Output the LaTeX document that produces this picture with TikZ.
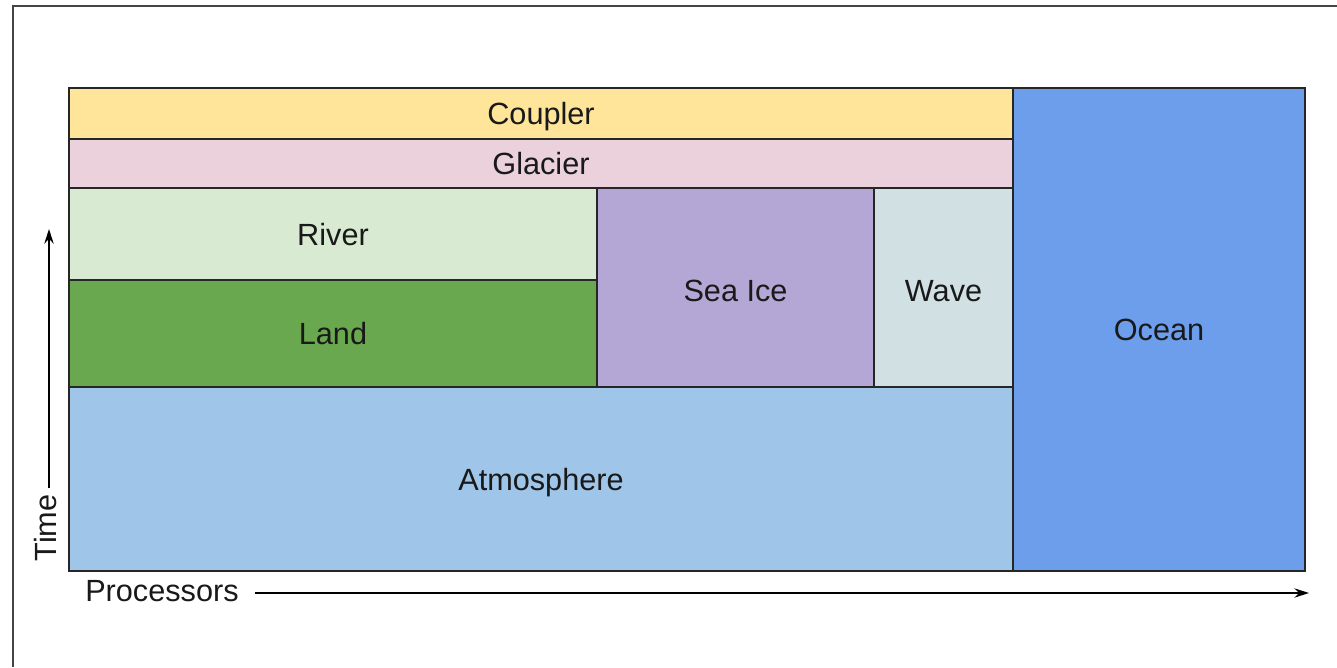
\documentclass[tikz,border=0pt]{standalone}
\usepackage{fontspec}
\setmainfont{Liberation Sans}
\usepackage{tikz}
\usetikzlibrary{positioning,arrows.meta}

\definecolor{couplercol}{HTML}{FFE599}
\definecolor{glaciercol}{HTML}{EAD1DC}
\definecolor{rivercol}{HTML}{D9EAD3}
\definecolor{landcol}{HTML}{6AA84F}
\definecolor{seaicecol}{HTML}{B4A7D6}
\definecolor{wavecol}{HTML}{D0E0E3}
\definecolor{atmcol}{HTML}{9FC5E8}
\definecolor{oceancol}{HTML}{6D9EEB}
\definecolor{framecol}{HTML}{444444}

\begin{document}
\begin{tikzpicture}[x = 0.75pt, y = -0.75pt,
        Block/.style = {draw = black!85, line width = 1.1pt},
        Label/.style = {font = \fontsize{23}{27}\selectfont, text = black!90, inner sep = 0pt, text height = 16.5pt, text depth = 0pt},
        Axis/.style = {line width = 1.1pt, -{Stealth[length = 11pt, width = 7pt]}}]
        \useasboundingbox (0,0) rectangle (1337,667);
        \draw [line width = 1.6pt, framecol] (13,667) -- (13,6) -- (1337,6);
        % blocks
        \draw [Block, fill = couplercol] (69,88) rectangle (1013,139) node [midway, Label] (coupler) {Coupler};
        \draw [Block, fill = glaciercol] (69,139) rectangle (1013,188) node [midway, Label] (glacier) {Glacier};
        \draw [Block, fill = rivercol] (69,188) rectangle (597,280) node [midway, Label] (river) {River};
        \draw [Block, fill = landcol] (69,280) rectangle (597,387) node [midway, Label] (land) {Land};
        \draw [Block, fill = seaicecol] (597,188) rectangle (874,387) node [midway, Label, yshift = -2pt] (seaice) {Sea Ice};
        \draw [Block, fill = wavecol] (874,188) rectangle (1013,387) node [midway, Label, yshift = -2pt] (wave) {Wave};
        \draw [Block, fill = atmcol] (69,387) rectangle (1013,571) node [midway, Label] (atm) {Atmosphere};
        \draw [Block, fill = oceancol] (1013,88) rectangle (1305,571) node [midway, Label] (ocean) {Ocean};
        % axes
        \node [Label, rotate = 90] (time) at (45,528) {Time};
        \node [Label, anchor = west] (proc) at (85,590) {Processors};
        \coordinate (timestart) at (49,488);
        \coordinate (timeend) at (49,229);
        \coordinate (procstart) at (255,593);
        \coordinate (procend) at (1309,593);
        \draw [Axis] (timestart) -- (timeend);
        \draw [Axis] (procstart) -- (procend);
    \end{tikzpicture}
\end{document}
